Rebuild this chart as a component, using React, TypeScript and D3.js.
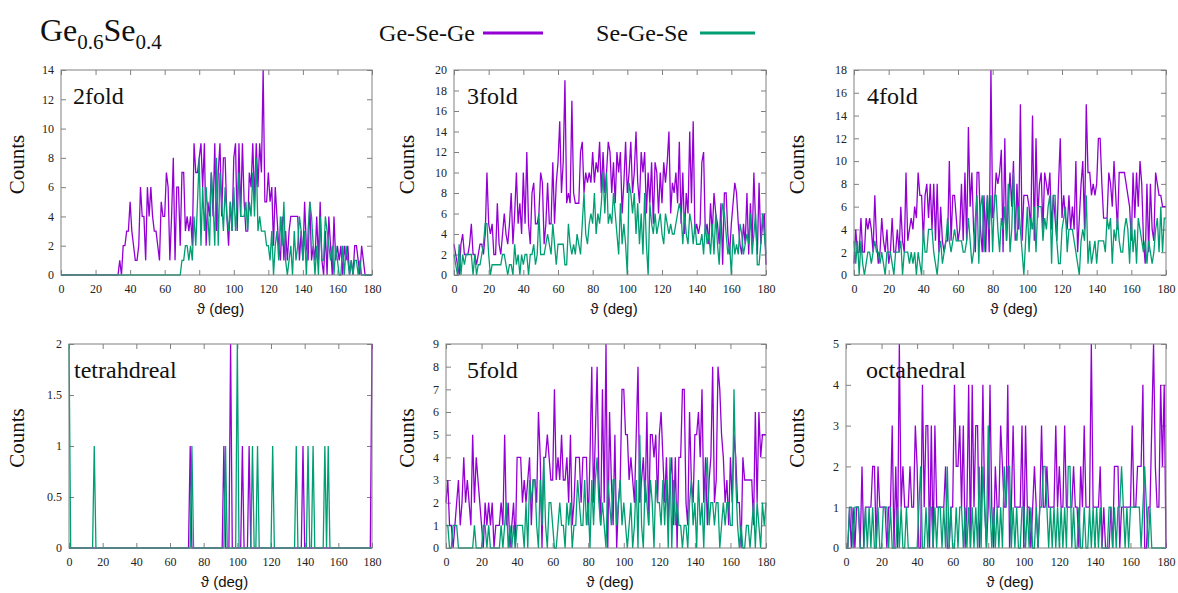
import { useEffect, useRef } from "react";
import * as d3 from "d3";

// counts per 1-degree bin, array index = bond angle in degrees (0..180)
const xTicks = [0, 20, 40, 60, 80, 100, 120, 140, 160, 180];

const twoFoldTicks = [0, 2, 4, 6, 8, 10, 12, 14];
const threeFoldTicks = [0, 2, 4, 6, 8, 10, 12, 14, 16, 18, 20];
const fourFoldTicks = [0, 2, 4, 6, 8, 10, 12, 14, 16, 18];
const tetraTicks = [0, 0.5, 1, 1.5, 2];
const fiveFoldTicks = [0, 1, 2, 3, 4, 5, 6, 7, 8, 9];
const octaTicks = [0, 1, 2, 3, 4, 5];

const twoFoldGeSeGe = [
  0, 0, 0, 0, 0, 0, 0, 0, 0, 0,
  0, 0, 0, 0, 0, 0, 0, 0, 0, 0,
  0, 0, 0, 0, 0, 0, 0, 0, 0, 0,
  0, 0, 0, 0, 1, 0, 2, 2, 3, 3,
  5, 3, 2, 1, 1, 2, 6, 4, 4, 1,
  6, 4, 6, 4, 3, 3, 2, 1, 5, 4,
  4, 7, 6, 1, 4, 8, 1, 6, 6, 2,
  7, 7, 3, 4, 3, 4, 2, 9, 7, 7,
  8, 9, 6, 9, 2, 5, 4, 7, 4, 9,
  3, 7, 9, 4, 8, 8, 4, 2, 5, 3,
  8, 9, 3, 9, 4, 9, 5, 3, 3, 7,
  6, 9, 5, 9, 6, 9, 7, 14, 5, 5,
  7, 5, 6, 2, 6, 4, 2, 1, 4, 1,
  3, 1, 3, 4, 4, 4, 4, 4, 1, 3,
  1, 5, 2, 1, 5, 1, 2, 1, 4, 1,
  5, 1, 0, 3, 0, 4, 2, 0, 4, 1,
  2, 1, 2, 0, 2, 1, 2, 0, 1, 0,
  2, 2, 1, 0, 2, 1, 0, 0, 0, 0,
  0,
];
const twoFoldSeGeSe = [
  0, 0, 0, 0, 0, 0, 0, 0, 0, 0,
  0, 0, 0, 0, 0, 0, 0, 0, 0, 0,
  0, 0, 0, 0, 0, 0, 0, 0, 0, 0,
  0, 0, 0, 0, 0, 0, 0, 0, 0, 0,
  0, 0, 0, 0, 0, 0, 0, 0, 0, 0,
  0, 0, 0, 0, 0, 0, 0, 0, 0, 0,
  0, 0, 0, 0, 0, 0, 0, 0, 0, 0,
  1, 1, 2, 2, 1, 2, 1, 4, 2, 5,
  8, 2, 6, 3, 6, 4, 2, 7, 5, 2,
  8, 2, 7, 5, 3, 6, 4, 3, 5, 3,
  6, 3, 5, 7, 4, 4, 4, 5, 3, 5,
  4, 7, 4, 8, 3, 4, 3, 3, 3, 2,
  2, 1, 3, 0, 2, 3, 1, 4, 2, 5,
  1, 0, 1, 2, 0, 3, 1, 2, 4, 3,
  1, 3, 0, 3, 5, 4, 2, 0, 2, 0,
  4, 1, 1, 4, 3, 2, 1, 2, 0, 2,
  1, 0, 0, 2, 0, 2, 1, 0, 1, 0,
  1, 1, 0, 1, 0, 0, 0, 0, 0, 0,
  0,
];

const threeFoldGeSeGe = [
  3, 2, 1, 0, 3, 4, 2, 2, 2, 3,
  5, 2, 2, 1, 2, 3, 3, 2, 4, 10,
  5, 4, 5, 2, 2, 7, 3, 2, 4, 6,
  4, 3, 5, 8, 3, 6, 10, 5, 7, 4,
  10, 5, 12, 5, 3, 8, 9, 5, 5, 6,
  10, 9, 3, 5, 9, 5, 5, 11, 5, 9,
  11, 15, 8, 11, 19, 7, 8, 7, 17, 8,
  7, 7, 7, 12, 13, 8, 10, 9, 10, 9,
  12, 9, 11, 10, 13, 8, 12, 8, 10, 13,
  12, 8, 11, 7, 12, 10, 12, 6, 9, 13,
  8, 10, 13, 8, 10, 14, 9, 7, 12, 10,
  12, 6, 10, 7, 11, 5, 11, 10, 6, 10,
  7, 11, 9, 11, 14, 6, 9, 8, 10, 7,
  13, 5, 10, 4, 8, 6, 14, 7, 15, 4,
  5, 4, 5, 11, 12, 4, 5, 3, 7, 4,
  8, 6, 5, 3, 7, 1, 8, 8, 4, 2,
  5, 7, 9, 8, 5, 3, 2, 5, 3, 8,
  2, 7, 3, 10, 5, 2, 9, 3, 5, 6,
  1,
];
const threeFoldSeGeSe = [
  2, 1, 0, 3, 0, 2, 1, 2, 2, 2,
  2, 0, 2, 0, 1, 1, 2, 3, 5, 5,
  2, 0, 1, 1, 1, 1, 1, 1, 2, 2,
  1, 0, 1, 1, 0, 3, 1, 2, 0, 2,
  1, 2, 2, 0, 2, 2, 3, 1, 2, 6,
  2, 2, 2, 3, 4, 3, 2, 5, 3, 1,
  3, 3, 3, 3, 1, 1, 5, 3, 2, 3,
  2, 4, 3, 2, 5, 8, 4, 3, 5, 6,
  5, 8, 4, 6, 5, 7, 10, 6, 10, 5,
  6, 5, 8, 6, 4, 2, 7, 3, 5, 3,
  0, 9, 8, 6, 8, 4, 7, 3, 6, 2,
  8, 3, 0, 7, 5, 4, 6, 4, 5, 6,
  4, 3, 6, 5, 4, 5, 4, 4, 5, 6,
  7, 6, 3, 6, 4, 3, 6, 5, 3, 5,
  3, 3, 3, 4, 2, 5, 3, 4, 2, 5,
  2, 6, 3, 1, 5, 7, 6, 4, 2, 3,
  0, 4, 2, 3, 2, 5, 4, 2, 3, 4,
  3, 6, 2, 4, 6, 1, 1, 3, 6, 4,
  2,
];

const fourFoldGeSeGe = [
  1, 4, 2, 2, 5, 2, 2, 5, 4, 5,
  4, 2, 7, 3, 1, 2, 5, 3, 2, 4,
  1, 2, 5, 2, 2, 4, 2, 6, 3, 2,
  9, 3, 4, 5, 4, 6, 5, 9, 7, 7,
  3, 7, 8, 5, 8, 4, 8, 3, 8, 2,
  6, 3, 2, 3, 3, 10, 3, 7, 7, 5,
  3, 4, 8, 3, 9, 3, 13, 6, 9, 4,
  2, 9, 9, 4, 2, 7, 2, 7, 2, 18,
  5, 6, 9, 8, 9, 11, 2, 12, 3, 6,
  9, 6, 10, 3, 8, 4, 15, 3, 7, 7,
  7, 6, 4, 14, 3, 12, 5, 8, 9, 4,
  9, 8, 7, 9, 4, 7, 5, 3, 8, 12,
  5, 7, 5, 4, 7, 4, 6, 4, 10, 2,
  5, 8, 10, 4, 15, 9, 9, 7, 8, 7,
  8, 12, 12, 8, 5, 5, 5, 9, 8, 6,
  10, 7, 4, 9, 9, 9, 9, 8, 7, 6,
  3, 9, 5, 9, 6, 10, 8, 3, 1, 8,
  2, 8, 4, 3, 9, 8, 7, 7, 6, 6,
  6,
];
const fourFoldSeGeSe = [
  3, 1, 3, 0, 3, 1, 0, 1, 2, 2,
  1, 2, 3, 2, 2, 1, 2, 1, 0, 2,
  2, 2, 1, 0, 2, 2, 2, 3, 0, 2,
  2, 2, 1, 2, 1, 2, 0, 2, 1, 0,
  4, 2, 2, 4, 4, 4, 2, 1, 0, 2,
  3, 1, 2, 3, 5, 3, 2, 3, 4, 3,
  3, 3, 3, 2, 2, 3, 5, 3, 1, 2,
  5, 7, 1, 6, 7, 2, 5, 7, 4, 7,
  2, 7, 7, 4, 2, 5, 4, 6, 3, 8,
  2, 4, 9, 4, 3, 6, 4, 2, 0, 3,
  6, 2, 5, 4, 6, 2, 6, 6, 6, 3,
  5, 4, 6, 7, 1, 7, 7, 3, 1, 1,
  4, 5, 6, 2, 4, 4, 4, 3, 2, 1,
  0, 3, 4, 3, 7, 1, 3, 1, 2, 3,
  1, 3, 3, 3, 3, 2, 5, 4, 5, 1,
  4, 3, 5, 3, 2, 2, 4, 5, 4, 1,
  5, 2, 4, 1, 5, 4, 3, 2, 3, 1,
  3, 2, 1, 2, 4, 5, 2, 6, 2, 5,
  5,
];

const tetraGeSeGe = [
  0, 0, 0, 0, 0, 0, 0, 0, 0, 0,
  0, 0, 0, 0, 0, 0, 0, 0, 0, 0,
  0, 0, 0, 0, 0, 0, 0, 0, 0, 0,
  0, 0, 0, 0, 0, 0, 0, 0, 0, 0,
  0, 0, 0, 0, 0, 0, 0, 0, 0, 0,
  0, 0, 0, 0, 0, 0, 0, 0, 0, 0,
  0, 0, 0, 0, 0, 0, 0, 0, 0, 0,
  0, 0, 1, 0, 0, 0, 0, 0, 0, 0,
  0, 0, 0, 0, 0, 0, 0, 0, 0, 0,
  0, 0, 1, 0, 0, 0, 2, 0, 0, 0,
  0, 0, 0, 1, 0, 0, 0, 1, 0, 0,
  0, 0, 0, 0, 0, 0, 0, 0, 0, 0,
  0, 0, 0, 0, 0, 0, 0, 0, 0, 0,
  0, 0, 0, 0, 0, 0, 0, 0, 0, 1,
  0, 0, 0, 0, 0, 0, 0, 0, 0, 0,
  0, 0, 0, 0, 0, 0, 0, 0, 0, 0,
  0, 0, 0, 0, 0, 0, 0, 0, 0, 0,
  0, 0, 0, 0, 0, 0, 0, 0, 0, 0,
  2,
];
const tetraSeGeSe = [
  2, 0, 0, 0, 0, 0, 0, 0, 0, 0,
  0, 0, 0, 0, 0, 1, 0, 0, 0, 0,
  0, 0, 0, 0, 0, 0, 0, 0, 0, 0,
  0, 0, 0, 0, 0, 0, 0, 0, 0, 0,
  0, 0, 0, 0, 0, 0, 0, 0, 0, 0,
  0, 0, 0, 0, 0, 0, 0, 0, 0, 0,
  0, 0, 0, 0, 0, 0, 0, 0, 0, 0,
  0, 0, 0, 1, 0, 0, 0, 0, 0, 0,
  0, 0, 0, 0, 0, 0, 0, 0, 0, 0,
  0, 0, 0, 1, 0, 0, 0, 0, 0, 0,
  2, 0, 0, 0, 0, 0, 0, 0, 0, 1,
  0, 0, 1, 0, 0, 0, 0, 0, 0, 0,
  0, 1, 0, 0, 0, 0, 0, 0, 0, 0,
  0, 0, 0, 0, 0, 1, 0, 0, 0, 0,
  0, 0, 1, 0, 0, 1, 0, 0, 0, 0,
  0, 0, 1, 0, 1, 0, 0, 0, 0, 0,
  0, 0, 0, 0, 0, 0, 0, 0, 0, 0,
  0, 0, 0, 0, 0, 0, 0, 0, 0, 0,
  0,
];

const fiveFoldGeSeGe = [
  2, 3, 1, 1, 0, 1, 2, 3, 1, 2,
  4, 2, 3, 2, 1, 5, 2, 4, 3, 2,
  1, 0, 2, 1, 2, 1, 2, 0, 1, 1,
  1, 2, 1, 5, 1, 2, 0, 1, 2, 0,
  4, 4, 4, 2, 3, 2, 3, 4, 1, 3,
  3, 2, 6, 4, 0, 4, 4, 5, 4, 3,
  3, 7, 3, 4, 3, 5, 3, 3, 4, 2,
  5, 1, 2, 4, 4, 4, 2, 4, 4, 4,
  1, 4, 8, 2, 5, 8, 3, 1, 7, 2,
  9, 0, 6, 3, 1, 5, 0, 2, 3, 7,
  7, 5, 5, 3, 4, 3, 2, 5, 8, 2,
  3, 4, 2, 6, 1, 5, 5, 4, 5, 2,
  5, 6, 4, 2, 4, 1, 3, 4, 1, 4,
  0, 4, 4, 7, 7, 2, 1, 6, 3, 2,
  5, 5, 6, 4, 7, 2, 4, 1, 3, 4,
  8, 2, 3, 8, 7, 5, 4, 2, 3, 1,
  4, 2, 5, 4, 2, 2, 0, 4, 3, 3,
  3, 3, 3, 1, 6, 2, 6, 4, 5, 5,
  5,
];
const fiveFoldSeGeSe = [
  1, 1, 0, 0, 1, 1, 1, 0, 0, 0,
  0, 0, 0, 0, 0, 0, 1, 0, 0, 0,
  0, 1, 1, 0, 1, 0, 0, 0, 0, 0,
  0, 1, 0, 1, 2, 0, 1, 0, 1, 0,
  1, 1, 1, 1, 0, 2, 0, 3, 2, 3,
  3, 1, 0, 3, 1, 4, 1, 0, 2, 2,
  1, 0, 0, 1, 2, 1, 1, 0, 2, 1,
  2, 0, 1, 1, 3, 2, 1, 1, 3, 1,
  2, 0, 3, 1, 3, 4, 2, 1, 2, 1,
  0, 3, 2, 1, 3, 3, 1, 2, 3, 1,
  2, 1, 0, 1, 2, 0, 1, 3, 0, 5,
  1, 0, 3, 2, 1, 3, 2, 0, 3, 2,
  2, 1, 3, 1, 3, 0, 4, 0, 3, 1,
  2, 1, 1, 0, 1, 1, 0, 2, 3, 1,
  2, 0, 3, 1, 2, 0, 3, 4, 1, 2,
  2, 1, 2, 2, 0, 1, 2, 1, 2, 2,
  1, 1, 7, 3, 1, 0, 1, 0, 0, 1,
  1, 0, 1, 2, 0, 2, 1, 0, 2, 1,
  2,
];

const octaGeSeGe = [
  0, 0, 1, 0, 1, 0, 1, 1, 0, 2,
  0, 1, 1, 1, 1, 2, 2, 0, 2, 1,
  1, 1, 1, 0, 1, 1, 3, 0, 2, 0,
  5, 1, 2, 1, 1, 1, 2, 1, 1, 3,
  2, 0, 0, 4, 1, 3, 3, 0, 3, 0,
  3, 1, 1, 1, 1, 1, 2, 0, 0, 1,
  1, 4, 2, 2, 3, 1, 3, 0, 1, 4,
  0, 4, 1, 3, 3, 0, 1, 4, 1, 0,
  1, 4, 1, 0, 2, 1, 1, 3, 2, 1,
  1, 4, 0, 1, 3, 1, 1, 1, 1, 3,
  0, 3, 1, 1, 0, 1, 2, 1, 0, 1,
  3, 1, 1, 2, 1, 1, 1, 1, 3, 1,
  2, 1, 1, 3, 1, 1, 1, 1, 2, 1,
  1, 0, 2, 1, 3, 1, 1, 1, 5, 1,
  1, 1, 1, 2, 0, 1, 0, 0, 0, 1,
  0, 2, 2, 2, 0, 1, 1, 1, 1, 1,
  1, 3, 1, 1, 2, 2, 2, 4, 0, 0,
  1, 1, 3, 5, 2, 1, 1, 4, 2, 4,
  0,
];
const octaSeGeSe = [
  0, 0, 1, 1, 0, 1, 1, 1, 0, 0,
  0, 1, 0, 1, 0, 1, 0, 0, 1, 0,
  0, 1, 1, 1, 0, 1, 0, 0, 0, 1,
  0, 1, 0, 0, 1, 0, 0, 0, 0, 0,
  0, 1, 2, 0, 0, 1, 0, 1, 1, 0,
  1, 0, 1, 1, 0, 1, 0, 2, 0, 1,
  0, 0, 1, 0, 1, 1, 0, 1, 0, 1,
  0, 1, 0, 1, 0, 2, 0, 2, 1, 0,
  3, 1, 0, 1, 0, 1, 0, 1, 0, 2,
  1, 2, 2, 0, 1, 0, 1, 0, 0, 1,
  1, 0, 1, 0, 1, 0, 0, 1, 0, 1,
  1, 2, 2, 1, 0, 1, 0, 1, 0, 1,
  0, 1, 0, 1, 0, 2, 2, 0, 1, 0,
  0, 1, 0, 0, 1, 0, 0, 1, 0, 1,
  0, 1, 0, 1, 0, 0, 0, 0, 1, 1,
  0, 1, 0, 1, 1, 2, 1, 0, 1, 0,
  1, 1, 1, 1, 1, 1, 0, 1, 2, 1,
  0, 1, 0, 0, 0, 0, 0, 0, 0, 0,
  0,
];

const seriesNames = ["Ge-Se-Ge", "Se-Ge-Se"];
const colors = ["#9400d3", "#009e73"];

const panels = [
  { label: "2fold", ge: twoFoldGeSeGe, se: twoFoldSeGeSe, ticks: twoFoldTicks },
  { label: "3fold", ge: threeFoldGeSeGe, se: threeFoldSeGeSe, ticks: threeFoldTicks },
  { label: "4fold", ge: fourFoldGeSeGe, se: fourFoldSeGeSe, ticks: fourFoldTicks },
  { label: "tetrahdreal", ge: tetraGeSeGe, se: tetraSeGeSe, ticks: tetraTicks },
  { label: "5fold", ge: fiveFoldGeSeGe, se: fiveFoldSeGeSe, ticks: fiveFoldTicks },
  { label: "octahedral", ge: octaGeSeGe, se: octaSeGeSe, ticks: octaTicks },
];

// plot frames in page pixels, and label offsets
const frames = [
  { left: 61, right: 372, top: 70, bottom: 275, labelDx: 12, countsX: 17 },
  { left: 454, right: 766, top: 70, bottom: 275, labelDx: 13, countsX: 407 },
  { left: 854, right: 1166, top: 70, bottom: 275, labelDx: 13, countsX: 797 },
  { left: 69, right: 372, top: 344, bottom: 548, labelDx: 5, countsX: 17 },
  { left: 446, right: 766, top: 344, bottom: 548, labelDx: 21, countsX: 407 },
  { left: 846, right: 1166, top: 344, bottom: 548, labelDx: 20, countsX: 797 },
];

const W = 1178;
const H = 593;
const SERIF = "'Liberation Serif', 'Times New Roman', serif";
const SANS = "'Liberation Sans', 'DejaVu Sans', sans-serif";
const GREY = "#808080";

export default function App() {
  const svgRef = useRef<SVGSVGElement | null>(null);

  useEffect(() => {
    const svg = d3.select(svgRef.current);
    svg.selectAll("*").remove();

    svg.append("rect").attr("width", W).attr("height", H).attr("fill", "#fff");

    // title with subscripts
    const title = svg
      .append("text")
      .attr("x", 40)
      .attr("y", 41)
      .style("font-family", SERIF)
      .style("font-size", "32px")
      .attr("fill", "#111");
    title.append("tspan").text("Ge");
    title.append("tspan").attr("dy", 8).style("font-size", "21px").text("0.6");
    title.append("tspan").attr("dy", -8).text("Se");
    title.append("tspan").attr("dy", 8).style("font-size", "21px").text("0.4");

    // legend
    const legendPos = [
      { textEnd: 475, x1: 483, x2: 543 },
      { textEnd: 688, x1: 700, x2: 755 },
    ];
    seriesNames.forEach((name, i) => {
      svg
        .append("text")
        .attr("x", legendPos[i].textEnd)
        .attr("y", 41)
        .attr("text-anchor", "end")
        .style("font-family", SERIF)
        .style("font-size", "24px")
        .attr("fill", "#111")
        .text(name);
      svg
        .append("line")
        .attr("x1", legendPos[i].x1)
        .attr("x2", legendPos[i].x2)
        .attr("y1", 33)
        .attr("y2", 33)
        .attr("stroke", colors[i])
        .attr("stroke-width", 3);
    });

    panels.forEach((p, idx) => {
      const f = frames[idx];
      const yMax = p.ticks[p.ticks.length - 1];
      const x = d3.scaleLinear().domain([0, 180]).range([f.left, f.right]);
      const y = d3.scaleLinear().domain([0, yMax]).range([f.bottom, f.top]);
      const g = svg.append("g");

      const styleAxis = (ax: any) => {
        ax.select(".domain").remove();
        ax.selectAll("line").attr("stroke", GREY);
        ax.selectAll("text")
          .style("font-family", SERIF)
          .style("font-size", "12px")
          .attr("fill", "#222");
      };

      g.append("g")
        .attr("transform", `translate(0,${f.bottom})`)
        .call(d3.axisBottom(x).tickValues(xTicks).tickSize(-5).tickPadding(9).tickFormat(d3.format("d")))
        .call(styleAxis);
      g.append("g")
        .attr("transform", `translate(0,${f.top})`)
        .call(d3.axisTop(x).tickValues(xTicks).tickSize(-5).tickFormat(() => ""))
        .call(styleAxis);
      g.append("g")
        .attr("transform", `translate(${f.left},0)`)
        .call(d3.axisLeft(y).tickValues(p.ticks).tickSize(-5).tickPadding(7).tickFormat((d: any) => String(d)))
        .call(styleAxis);
      g.append("g")
        .attr("transform", `translate(${f.right},0)`)
        .call(d3.axisRight(y).tickValues(p.ticks).tickSize(-5).tickFormat(() => ""))
        .call(styleAxis);

      const line = d3
        .line<number>()
        .x((_, i) => x(i))
        .y((d) => y(d));

      [p.ge, p.se].forEach((vals, si) => {
        g.append("path")
          .datum(vals)
          .attr("fill", "none")
          .attr("stroke", colors[si])
          .attr("stroke-width", 1.3)
          .attr("d", line);
      });

      g.append("rect")
        .attr("x", f.left)
        .attr("y", f.top)
        .attr("width", f.right - f.left)
        .attr("height", f.bottom - f.top)
        .attr("fill", "none")
        .attr("stroke", GREY)
        .attr("stroke-width", 1);

      // panel label
      g.append("text")
        .attr("x", f.left + f.labelDx)
        .attr("y", f.top + 34)
        .style("font-family", SERIF)
        .style("font-size", "24px")
        .attr("fill", "#111")
        .text(p.label);

      // axis titles
      g.append("text")
        .attr("transform", `translate(${f.countsX + 7},${(f.top + f.bottom) / 2 - 8}) rotate(-90)`)
        .attr("text-anchor", "middle")
        .style("font-family", SERIF)
        .style("font-size", "21px")
        .attr("fill", "#111")
        .text("Counts");
      g.append("text")
        .attr("x", (f.left + f.right) / 2 + 4)
        .attr("y", f.bottom + 39)
        .attr("text-anchor", "middle")
        .style("font-family", SANS)
        .style("font-size", "15px")
        .attr("fill", "#111")
        .text("ϑ (deg)");
    });
  }, []);

  return (
    <div style={{ position: "absolute", left: 0, top: 0 }}>
      <svg ref={svgRef} width={W} height={H} style={{ display: "block" }} />
    </div>
  );
}
